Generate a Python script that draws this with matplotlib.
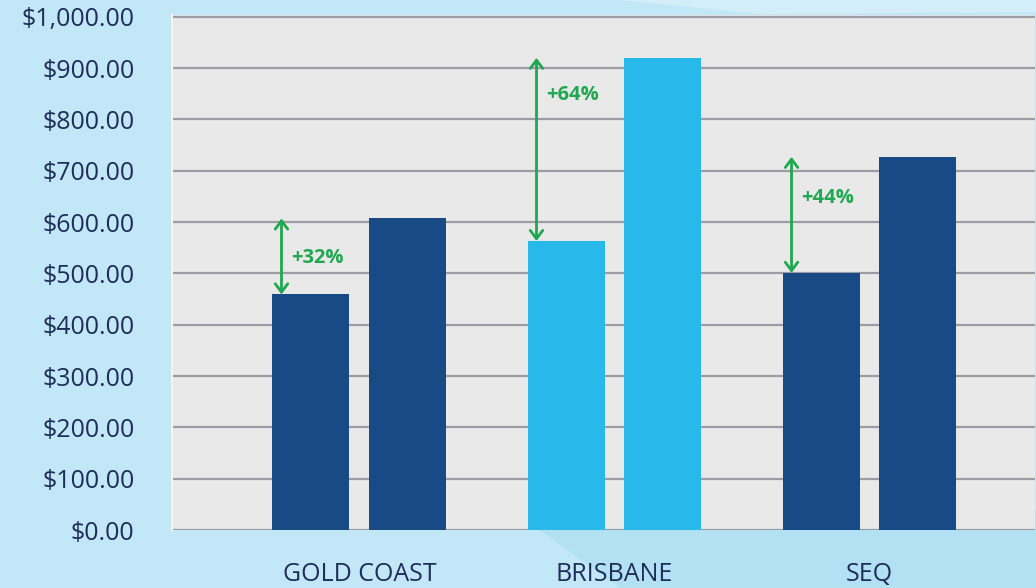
import matplotlib
matplotlib.use("Agg")
import matplotlib.pyplot as plt
from matplotlib.patches import Polygon
import numpy as np

categories = ["GOLD COAST", "BRISBANE", "SEQ"]
before_values = [459, 563, 501]
after_values = [607, 920, 727]
bar_colors = ["#184a86", "#29b8ea", "#184a86"]
growth_labels = ["+32%", "+64%", "+44%"]
label_heights = [529, 847, 646]
yticks = [0, 100, 200, 300, 400, 500, 600, 700, 800, 900, 1000]

plt.rcParams['font.family'] = ['Open Sans', 'DejaVu Sans']

fig = plt.figure(figsize=(10.36, 5.88), dpi=100)
fig.patch.set_facecolor("#c2e7f6")

# decorative background shapes
bg = fig.add_axes([0, 0, 1, 1], zorder=-10)
bg.set_xlim(0, 1036); bg.set_ylim(588, 0); bg.axis("off")
bg.add_patch(Polygon([[620, 0], [1036, 0], [1036, 12], [760, 14]], closed=True,
                     facecolor="#d3eefa", edgecolor="none"))
bg.add_patch(Polygon([[540, 530], [780, 530], [1036, 510], [1036, 588], [620, 588]],
                     closed=True, facecolor="#b2e1f3", edgecolor="none"))

ax = fig.add_axes([172/1036, (588-530)/588, (1035-172)/1036, (530-14.7)/588])
ax.set_facecolor("#e9e9ea")

x = np.arange(len(categories))
w = 0.302
off = 0.19
ax.bar(x - off, before_values, width=w, color=bar_colors, zorder=3)
ax.bar(x + off, after_values, width=w, color=bar_colors, zorder=3)

ax.set_xlim(-0.735, 2.649)
ax.set_ylim(0, 1004)
ax.set_yticks(yticks)
ax.set_yticklabels([f"${v:,.2f}" for v in yticks], fontsize=18, color="#1f2d5a")
ax.set_xticks(x)
ax.set_xticklabels(categories, fontsize=18, color="#1f2d5a")
ax.tick_params(axis="y", length=0, pad=27)
ax.tick_params(axis="x", length=0, pad=23)
ax.grid(axis="y", color="#9c9ca5", linewidth=1.6, zorder=1)
for s in ax.spines.values():
    s.set_visible(False)
ax.spines["left"].set_visible(True)
ax.spines["left"].set_color("#f4f4f4")
ax.spines["left"].set_linewidth(1.5)

green = "#1fa84f"
arrow_dx = 9 / 255
for i in range(len(categories)):
    ax_x = x[i] - off - w / 2 + arrow_dx
    ax.annotate("", xy=(ax_x, after_values[i]), xytext=(ax_x, before_values[i]),
                arrowprops=dict(arrowstyle="<->,head_length=0.6,head_width=0.45",
                                color=green, lw=2, shrinkA=0, shrinkB=0), zorder=4)
    ax.text(ax_x + 9.5 / 255, label_heights[i], growth_labels[i], color=green,
            fontsize=14.5, fontweight="bold", va="center", ha="left", zorder=5)

fig.savefig("out.png", dpi=100, facecolor=fig.get_facecolor())
